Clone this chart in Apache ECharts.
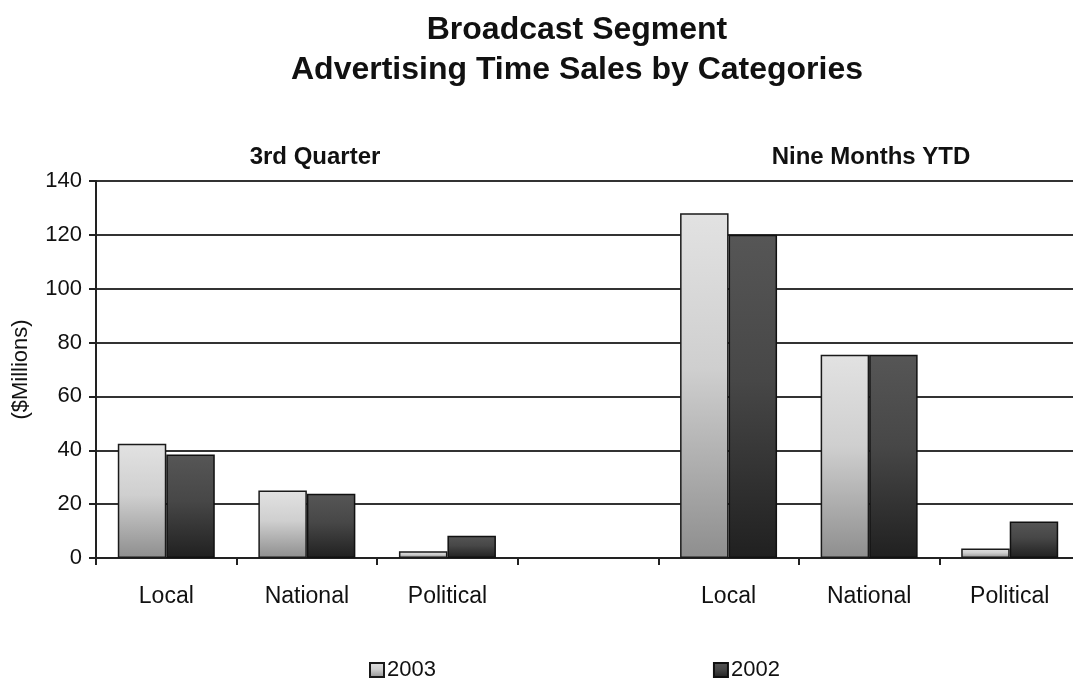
<!DOCTYPE html>
<html>
<head>
<meta charset="utf-8">
<script src="https://cdn.jsdelivr.net/npm/echarts@6/dist/echarts.min.js"></script>
<style>
  html, body { margin: 0; padding: 0; background: #fff; }
  #chart { width: 1073px; height: 681px; }
</style>
</head>
<body>
<div id="chart"></div>
<script>
// categories: 3rd quarter group, a blank spacer, then nine months group
var categories = ['Local', 'National', 'Political', '', 'Local', 'National', 'Political'];
var values2003 = [42.4, 25.1, 2.5, '-', 128, 75.5, 3.5];
var values2002 = [38.4, 23.9, 8.3, '-', 120, 75.5, 13.6];
var groupTitles = ['3rd Quarter', 'Nine Months YTD'];
var yTicks = { min: 0, max: 140, interval: 20 };

var fontName = '"Liberation Sans", Arial, sans-serif';

var lightFill = new echarts.graphic.LinearGradient(0, 0, 0, 1, [
  { offset: 0, color: '#e2e2e2' },
  { offset: 0.45, color: '#cfcfcf' },
  { offset: 1, color: '#8e8e8e' }
]);
var darkFill = new echarts.graphic.LinearGradient(0, 0, 0, 1, [
  { offset: 0, color: '#565656' },
  { offset: 0.45, color: '#474747' },
  { offset: 1, color: '#202020' }
]);

var chart = echarts.init(document.getElementById('chart'));

var option_chart = {
  backgroundColor: '#fff',
  animation: false,
  title: [{
    text: 'Broadcast Segment\nAdvertising Time Sales by Categories',
    left: 572,
    top: 5,
    textAlign: 'center',
    textStyle: {
      fontFamily: fontName,
      fontWeight: 'bold',
      fontSize: 32,
      lineHeight: 40,
      color: '#111'
    }
  }, {
    text: groupTitles[0],
    left: 310,
    top: 140,
    textAlign: 'center',
    textStyle: { fontFamily: fontName, fontWeight: 'bold', fontSize: 24, color: '#111' }
  }, {
    text: groupTitles[1],
    left: 866,
    top: 140,
    textAlign: 'center',
    textStyle: { fontFamily: fontName, fontWeight: 'bold', fontSize: 24, color: '#111' }
  }],
  legend: {
    top: 654,
    left: 364,
    icon: 'rect',
    itemWidth: 14,
    itemHeight: 14,
    itemGap: 277,
    textStyle: { fontFamily: fontName, fontSize: 22, color: '#111', padding: [0, 0, 0, -2] },
    data: ['2003', '2002']
  },
  grid: {
    left: 96,
    top: 181,
    width: 984,
    height: 377,
    outerBoundsMode: 'none'
  },
  xAxis: {
    type: 'category',
    data: categories,
    axisLine: { lineStyle: { color: '#222', width: 2 } },
    axisTick: { show: true, length: 7, lineStyle: { color: '#222', width: 2 } },
    axisLabel: { fontFamily: fontName, fontSize: 23, color: '#111', margin: 27 }
  },
  yAxis: {
    type: 'value',
    min: yTicks.min,
    max: yTicks.max,
    interval: yTicks.interval,
    name: '($Millions)',
    nameLocation: 'middle',
    nameGap: 64,
    nameTextStyle: { fontFamily: fontName, fontSize: 22, color: '#111' },
    axisLine: { show: true, lineStyle: { color: '#222', width: 2 } },
    axisTick: { show: true, length: 7, lineStyle: { color: '#222', width: 2 } },
    axisLabel: { fontFamily: fontName, fontSize: 22, color: '#111', margin: 14 },
    splitLine: { show: true, lineStyle: { color: '#333', width: 2 } }
  },
  series: [{
    name: '2003',
    type: 'bar',
    data: values2003,
    barGap: '0%',
    barCategoryGap: '31%',
    itemStyle: { color: lightFill, borderColor: '#1a1a1a', borderWidth: 1.5 }
  }, {
    name: '2002',
    type: 'bar',
    data: values2002,
    itemStyle: { color: darkFill, borderColor: '#111', borderWidth: 1.5 }
  }]
};

chart.setOption(option_chart);
</script>
</body>
</html>
